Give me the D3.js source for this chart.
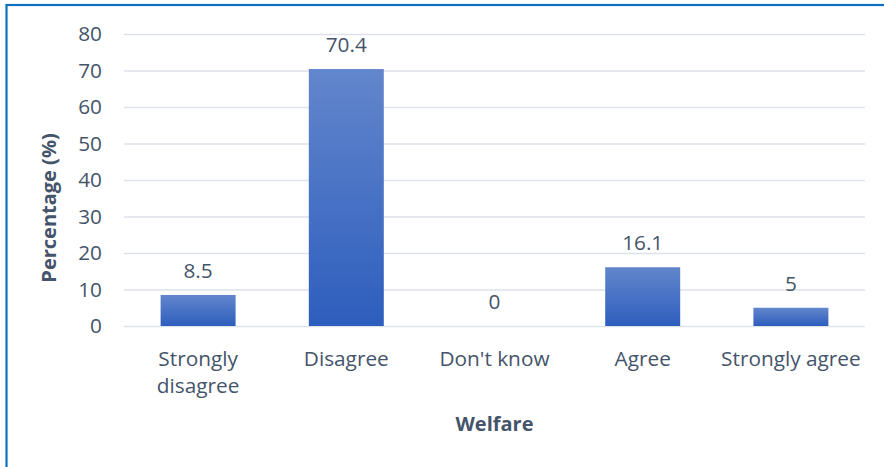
<!DOCTYPE html>
<html>
<head>
<meta charset="utf-8">
<script src="https://cdn.jsdelivr.net/npm/d3@7"></script>
<style>
  html, body { margin: 0; padding: 0; background: #fff; }
  svg { display: block; }
  text { font-family: "Open Sans", "Noto Sans", sans-serif; fill: #44546a; }
</style>
</head>
<body>
<script>
// Responses on welfare (percentage of respondents)
const categories = ["Strongly disagree", "Disagree", "Don't know", "Agree", "Strongly agree"];
const categoryLines = [["Strongly", "disagree"], ["Disagree"], ["Don't know"], ["Agree"], ["Strongly agree"]];
const values = [8.5, 70.4, 0, 16.1, 5];
const yTicks = [0, 10, 20, 30, 40, 50, 60, 70, 80];

const W = 884, H = 467;
const margin = { left: 124, right: 19, top: 34, bottom: 141 };
const labelSize = 20.8;
const titleSize = 20;

const svg = d3.select("body").append("svg")
  .attr("width", W).attr("height", H);

// outer frame (blue line on the left and top)
svg.append("rect")
  .attr("x", 6.5).attr("y", 5)
  .attr("width", W + 10).attr("height", H + 10)
  .attr("fill", "none")
  .attr("stroke", "#0a70c4")
  .attr("stroke-width", 2.2);

const x = d3.scaleBand()
  .domain(categories)
  .range([margin.left, W - margin.right])
  .paddingInner(0.494)
  .paddingOuter(0.247);

const y = d3.scaleLinear()
  .domain([0, 80])
  .range([H - margin.bottom, margin.top]);

// bar gradient: lighter at top, deeper blue at bottom
const defs = svg.append("defs");
const grad = defs.append("linearGradient")
  .attr("id", "barGrad")
  .attr("x1", 0).attr("y1", 0).attr("x2", 0).attr("y2", 1);
grad.append("stop").attr("offset", "0%").attr("stop-color", "#6386cc");
grad.append("stop").attr("offset", "100%").attr("stop-color", "#2d5ebd");

// gridlines + y labels
const yAxis = d3.axisLeft(y)
  .tickValues(yTicks)
  .tickSize(-(W - margin.left - margin.right))
  .tickPadding(22)
  .tickFormat(d3.format("d"));

const gy = svg.append("g")
  .attr("transform", `translate(${margin.left},0)`)
  .call(yAxis);
gy.select(".domain").remove();
gy.selectAll(".tick line")
  .attr("stroke", "#dde2ea")
  .attr("stroke-width", 1.3);
gy.selectAll(".tick text")
  .attr("font-size", labelSize)
  .attr("fill", "#44546a");

// bars
svg.append("g").selectAll("rect")
  .data(values)
  .join("rect")
  .attr("x", (d, i) => x(categories[i]))
  .attr("y", d => y(d))
  .attr("width", x.bandwidth())
  .attr("height", d => y(0) - y(d))
  .attr("fill", "url(#barGrad)");

// value labels
svg.append("g").selectAll("text")
  .data(values)
  .join("text")
  .attr("x", (d, i) => x(categories[i]) + x.bandwidth() / 2)
  .attr("y", d => y(d) - 17)
  .attr("text-anchor", "middle")
  .attr("font-size", labelSize)
  .text(d => d);

// category labels
const gx = svg.append("g");
categories.forEach((c, i) => {
  const t = gx.append("text")
    .attr("x", x(c) + x.bandwidth() / 2)
    .attr("y", 366)
    .attr("text-anchor", "middle")
    .attr("font-size", labelSize);
  categoryLines[i].forEach((line, j) => {
    t.append("tspan")
      .attr("x", x(c) + x.bandwidth() / 2)
      .attr("dy", j === 0 ? 0 : 27)
      .text(line);
  });
});

// axis titles
svg.append("text")
  .attr("x", (margin.left + W - margin.right) / 2)
  .attr("y", 431)
  .attr("text-anchor", "middle")
  .attr("font-size", titleSize)
  .attr("font-weight", "bold")
  .text("Welfare");

svg.append("text")
  .attr("transform", `translate(56,${(y(0) + y(80)) / 2 + 28}) rotate(-90)`)
  .attr("text-anchor", "middle")
  .attr("font-size", titleSize)
  .attr("font-weight", "bold")
  .text("Percentage (%)");
</script>
</body>
</html>
